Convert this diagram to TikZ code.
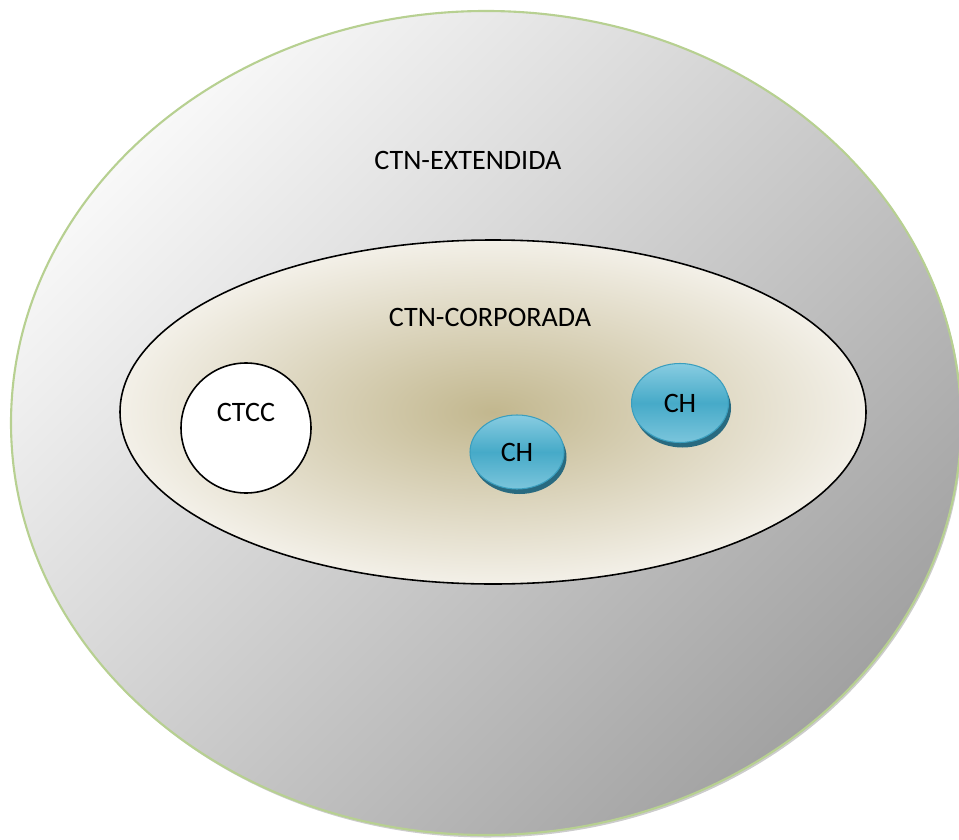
\documentclass[tikz,border=0pt]{standalone}
\usepackage{fontspec}
\setmainfont{Carlito}
\usetikzlibrary{shapes.geometric,shadows}

\definecolor{leafgreen}{RGB}{183,208,145}
\definecolor{shellhi}{RGB}{248,248,248}
\definecolor{shelllo}{RGB}{162,162,162}
\definecolor{corpcore}{RGB}{194,183,142}
\definecolor{corpedge}{RGB}{243,240,232}
\definecolor{chlight}{RGB}{136,204,225}
\definecolor{chmid}{RGB}{70,170,200}
\definecolor{chrim}{RGB}{58,158,190}
\definecolor{chside}{RGB}{40,106,128}

\tikzset{
	setring/.style={ellipse, inner sep=0pt},
	hubdisk/.style={ellipse, draw=chrim, line width=0.6pt, inner sep=0pt,
		top color=chlight, bottom color=chlight!80!chmid, middle color=chmid,
		minimum width=1.88cm, minimum height=1.48cm,
		drop shadow={shadow xshift=0.05cm, shadow yshift=-0.1cm, fill=chside, opacity=1}},
}

\begin{document}
\begin{tikzpicture}[font=\fontsize{16}{19}\selectfont]

	\useasboundingbox (0,0) rectangle (19.18,-16.78);

	% outer set
	\node[setring, draw=leafgreen, line width=1.2pt, minimum width=19cm, minimum height=16.48cm,
		top color=shellhi, bottom color=shelllo, shading angle=45,
		drop shadow={shadow xshift=0.03cm, shadow yshift=-0.05cm, fill=black!40, opacity=0.5}] (extendida) at (9.72,-8.46) {};
	\node (lblext) at (9.36,-3.2) {CTN-EXTENDIDA};

	% inner set
	\node[setring, draw=black, line width=0.9pt, minimum width=14.92cm, minimum height=6.88cm,
		inner color=corpcore, outer color=corpedge] (corporada) at (9.86,-8.24) {};
	\node (lblcorp) at (9.8,-6.34) {CTN-CORPORADA};

	% members
	\node[circle, draw=black, line width=0.9pt, fill=white, minimum size=2.6cm] (ctcc) at (4.92,-8.56) {};
	\node (lblctcc) at ([yshift=0.32cm]ctcc.center) {CTCC};

	\node[hubdisk] (hubA) at (10.34,-9.04) {CH};
	\node[hubdisk, minimum width=1.94cm, minimum height=1.58cm] (hubB) at (13.6,-8.06) {CH};

\end{tikzpicture}
\end{document}
